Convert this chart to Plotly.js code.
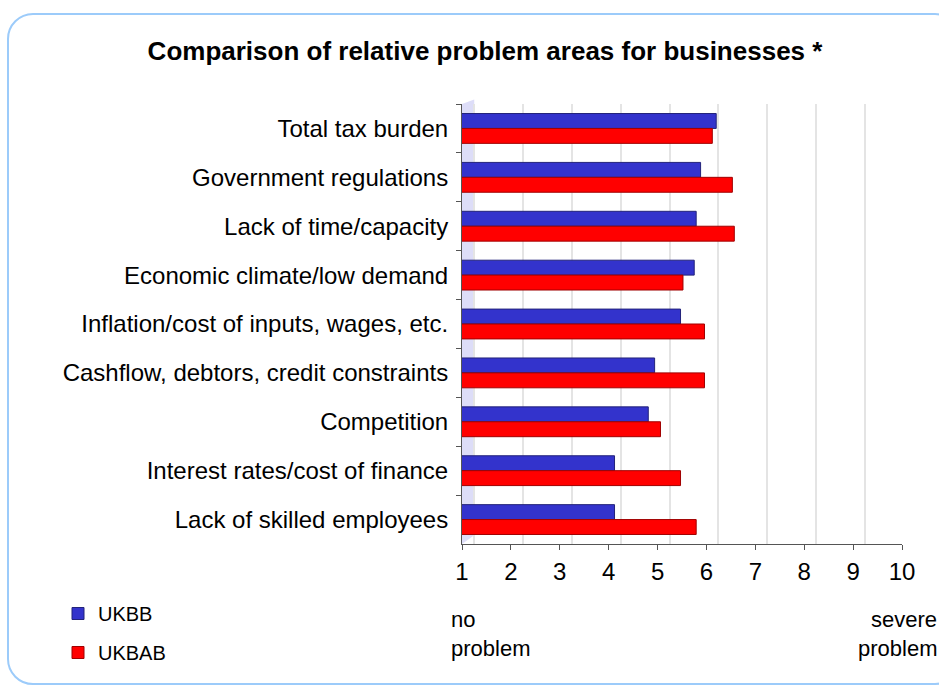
<!DOCTYPE html>
<html>
<head>
<meta charset="utf-8">
<script src="https://cdn.plot.ly/plotly-3.0.1.min.js"></script>
<style>
  html, body { margin: 0; padding: 0; width: 939px; height: 686px; overflow: hidden; background: #fff; }
  #frame { position: absolute; left: 7px; top: 13px; width: 950px; height: 668px; border: 2px solid #9CCBFA; border-radius: 26px; pointer-events: none; }
  #chart { position: absolute; left: 0; top: 0; width: 939px; height: 686px; }
</style>
</head>
<body>
<div id="chart"></div>
<div id="frame"></div>
<script>
// Data
const categories = [
  "Total tax burden",
  "Government regulations",
  "Lack of time/capacity",
  "Economic climate/low demand",
  "Inflation/cost of inputs, wages, etc.",
  "Cashflow, debtors, credit constraints",
  "Competition",
  "Interest rates/cost of finance",
  "Lack of skilled employees"
];
const ukbb  = [6.20, 5.88, 5.79, 5.75, 5.47, 4.94, 4.81, 4.12, 4.12];
const ukbab = [6.12, 6.53, 6.57, 5.52, 5.96, 5.96, 5.06, 5.47, 5.79];
const seriesNames = ["UKBB", "UKBAB"];
const xTicks = [1, 2, 3, 4, 5, 6, 7, 8, 9, 10];

const font = "Liberation Sans, Arial, sans-serif";

// plot-area geometry helpers (pixels -> paper fractions)
const PL = 462, PR = 902, PT = 104, PB = 544;
const px = v => (v - PL) / (PR - PL);
const py = v => (PB - v) / (PB - PT);

const traces = [
  {
    type: "bar", orientation: "h", name: seriesNames[0],
    y: categories, x: ukbb,
    marker: { color: "#3333CC", line: { color: "#23237A", width: 1 } },
    legendgroup: "a", hoverinfo: "x+name"
  },
  {
    type: "bar", orientation: "h", name: seriesNames[1],
    y: categories, x: ukbab,
    marker: { color: "#FF0000", line: { color: "#A00000", width: 1 } },
    legendgroup: "b", hoverinfo: "x+name"
  },
  // invisible helper so the back-wall grid axis exists
  { type: "scatter", x: [null], y: [null], xaxis: "x2", yaxis: "y", showlegend: false, hoverinfo: "skip" }
];

const annFont = { family: font, size: 22, color: "#000" };

const layout = {
  width: 939, height: 686,
  paper_bgcolor: "rgba(0,0,0,0)", plot_bgcolor: "rgba(0,0,0,0)",
  margin: { l: PL, r: 939 - PR, t: PT, b: 686 - PB },
  font: { family: font, color: "#000", size: 24 },
  title: {
    text: "<b>Comparison of relative problem areas for businesses *</b>",
    font: { family: font, size: 26, color: "#000" },
    x: 485/939, xref: "container", xanchor: "center",
    y: 1 - 51/686, yref: "container", yanchor: "middle"
  },
  barmode: "group", bargap: 0.39, bargroupgap: 0,
  showlegend: true,
  legend: {
    xref: "container", yref: "container",
    x: 58/939, y: 1 - 594/686, xanchor: "left", yanchor: "top",
    traceorder: "grouped", tracegroupgap: 10,
    font: { family: font, size: 20, color: "#000" },
    bgcolor: "rgba(0,0,0,0)"
  },
  xaxis: {
    range: [1, 10], tickvals: xTicks, ticktext: xTicks.map(String),
    showgrid: false, zeroline: false,
    showline: true, linecolor: "#555", linewidth: 1,
    ticks: "outside", ticklen: 5, tickcolor: "#555",
    tickfont: { family: font, size: 24, color: "#000" },
    ticklabelstandoff: 1,
    fixedrange: true
  },
  xaxis2: {
    overlaying: "x", range: [1 - 0.245, 10 - 0.245],
    tickvals: xTicks, showticklabels: false, ticks: "",
    showgrid: true, gridcolor: "#E4E4E4", gridwidth: 2,
    zeroline: false, showline: false, fixedrange: true
  },
  yaxis: {
    type: "category", autorange: "reversed",
    showline: true, linecolor: "#555", linewidth: 1,
    ticks: "outside", ticklen: 5, tickcolor: "#555", tickson: "boundaries",
    showgrid: false, zeroline: false,
    tickfont: { family: font, size: 24, color: "#000" },
    ticklabelstandoff: 8,
    fixedrange: true
  },
  shapes: [
    { type: "path", xref: "x", yref: "paper", layer: "below",
      path: "M1,0 L1.25,0.02 L1.25,1.01 L1,1.0 Z",
      fillcolor: "#DDDDF8", line: { width: 0 } }
  ],
  annotations: [
    { text: "no", xref: "paper", yref: "paper", x: px(449), y: py(619), xanchor: "left", yanchor: "middle", showarrow: false, font: annFont },
    { text: "problem", xref: "paper", yref: "paper", x: px(449), y: py(648), xanchor: "left", yanchor: "middle", showarrow: false, font: annFont },
    { text: "severe", xref: "paper", yref: "paper", x: px(939), y: py(619), xanchor: "right", yanchor: "middle", showarrow: false, font: annFont },
    { text: "problem", xref: "paper", yref: "paper", x: px(939), y: py(648), xanchor: "right", yanchor: "middle", showarrow: false, font: annFont }
  ]
};

Plotly.newPlot("chart", traces, layout, { displayModeBar: false, staticPlot: true });
</script>
</body>
</html>
